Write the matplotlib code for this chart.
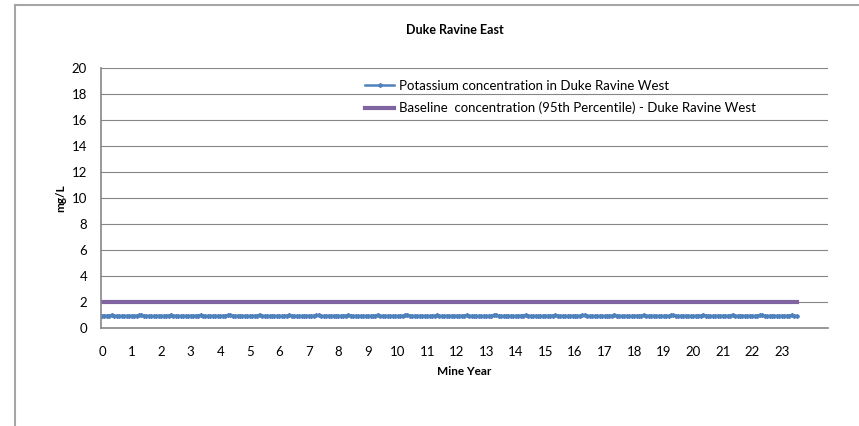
import matplotlib.pyplot as plt
from matplotlib.lines import Line2D
import numpy as np

plt.rcParams['font.family'] = ['Lato', 'DejaVu Sans']

# monthly potassium concentration (mg/L), mine year 0 .. 23.5
potassium = [
    0.93, 0.94, 0.95, 0.96, 1.01, 0.95, 0.93, 0.92, 0.94, 0.93, 0.92, 0.93,
    0.94, 0.93, 0.95, 0.97, 1.02, 0.94, 0.92, 0.93, 0.93, 0.92, 0.93, 0.94,
    0.93, 0.92, 0.94, 0.96, 1.01, 0.95, 0.93, 0.93, 0.92, 0.94, 0.93, 0.92,
    0.94, 0.93, 0.94, 0.96, 1.00, 0.94, 0.93, 0.92, 0.93, 0.93, 0.94, 0.93,
    0.92, 0.94, 0.95, 0.97, 1.01, 0.95, 0.92, 0.93, 0.94, 0.92, 0.93, 0.93,
    0.93, 0.93, 0.94, 0.96, 1.02, 0.94, 0.93, 0.92, 0.93, 0.94, 0.92, 0.93,
    0.94, 0.92, 0.95, 0.96, 1.01, 0.95, 0.93, 0.93, 0.92, 0.93, 0.93, 0.94,
    0.93, 0.94, 0.94, 0.97, 1.00, 0.94, 0.92, 0.93, 0.94, 0.92, 0.94, 0.93,
    0.92, 0.93, 0.95, 0.96, 1.01, 0.95, 0.93, 0.92, 0.93, 0.93, 0.92, 0.93,
    0.94, 0.93, 0.94, 0.96, 1.02, 0.94, 0.93, 0.93, 0.92, 0.94, 0.93, 0.92,
    0.93, 0.94, 0.95, 0.97, 1.01, 0.95, 0.92, 0.93, 0.93, 0.92, 0.94, 0.93,
    0.92, 0.93, 0.94, 0.96, 1.00, 0.94, 0.93, 0.92, 0.94, 0.93, 0.93, 0.94,
    0.94, 0.92, 0.95, 0.96, 1.01, 0.95, 0.93, 0.93, 0.92, 0.93, 0.92, 0.93,
    0.93, 0.93, 0.94, 0.97, 1.02, 0.94, 0.92, 0.93, 0.93, 0.94, 0.93, 0.92,
    0.92, 0.94, 0.95, 0.96, 1.01, 0.95, 0.93, 0.92, 0.94, 0.92, 0.93, 0.93,
    0.94, 0.93, 0.94, 0.96, 1.00, 0.94, 0.93, 0.93, 0.93, 0.93, 0.94, 0.93,
    0.93, 0.92, 0.95, 0.97, 1.01, 0.95, 0.92, 0.93, 0.92, 0.94, 0.93, 0.94,
    0.92, 0.93, 0.94, 0.96, 1.02, 0.94, 0.93, 0.92, 0.93, 0.93, 0.92, 0.93,
    0.94, 0.94, 0.95, 0.96, 1.01, 0.95, 0.93, 0.93, 0.94, 0.92, 0.93, 0.93,
    0.93, 0.93, 0.94, 0.97, 1.00, 0.94, 0.92, 0.93, 0.93, 0.94, 0.93, 0.92,
    0.92, 0.94, 0.95, 0.96, 1.01, 0.95, 0.93, 0.92, 0.92, 0.93, 0.94, 0.93,
    0.94, 0.93, 0.94, 0.96, 1.02, 0.94, 0.93, 0.93, 0.94, 0.92, 0.93, 0.94,
    0.93, 0.92, 0.95, 0.97, 1.01, 0.95, 0.92, 0.93, 0.93, 0.93, 0.92, 0.93,
    0.94, 0.93, 0.94, 0.96, 1.00, 0.94, 0.93,
]
baseline = 2.0
years = np.arange(len(potassium)) / 12.0
year_ticks = list(range(0, 24))

fig = plt.figure(figsize=(8.59, 4.26), dpi=100)
ax = fig.add_axes([0.1176, 0.23, 0.8463, 0.6104])

ax.plot(years, potassium, color='#4F81BD', lw=1.8, marker='D', ms=2.0,
        label='Potassium concentration in Duke Ravine West')
ax.plot([years[0], years[-1]], [baseline, baseline], color='#8064A2', lw=3,
        label='Baseline  concentration (95th Percentile) - Duke Ravine West')

ax.set_xlim(-0.034, 24.56)
ax.set_ylim(0, 20)
ax.set_yticks(range(0, 21, 2))
ax.set_xticks(year_ticks)
ax.tick_params(axis='both', length=0, labelsize=9.5)
ax.tick_params(axis='x', pad=13)
ax.tick_params(axis='y', pad=10)
ax.grid(axis='y', color='#868686', lw=0.8)
ax.set_axisbelow(True)
for s in ['top', 'right']:
    ax.spines[s].set_visible(False)
for s in ['left', 'bottom']:
    ax.spines[s].set_color('#868686')
    ax.spines[s].set_linewidth(1.2)

ax.set_xlabel('Mine Year', fontsize=8.5, fontweight='bold', labelpad=6)
ax.set_ylabel('mg/L', fontsize=8.5, fontweight='bold', labelpad=4)
fig.text(0.53, 0.93, 'Duke Ravine East', ha='center', va='center',
         fontsize=9, fontweight='bold')

ax.legend(loc='upper left', bbox_to_anchor=(0.347, 1.0), frameon=False,
          fontsize=9.5, handlelength=2.2, handletextpad=0.35, labelspacing=0.75)

# outer chart frame
fig.add_artist(Line2D([15 / 859, 1], [1 - 5 / 426] * 2, color='#A6A6A6', lw=1.5))
fig.add_artist(Line2D([15 / 859] * 2, [0, 1 - 5 / 426], color='#A6A6A6', lw=1.5))

fig.savefig('out.png', dpi=100)
